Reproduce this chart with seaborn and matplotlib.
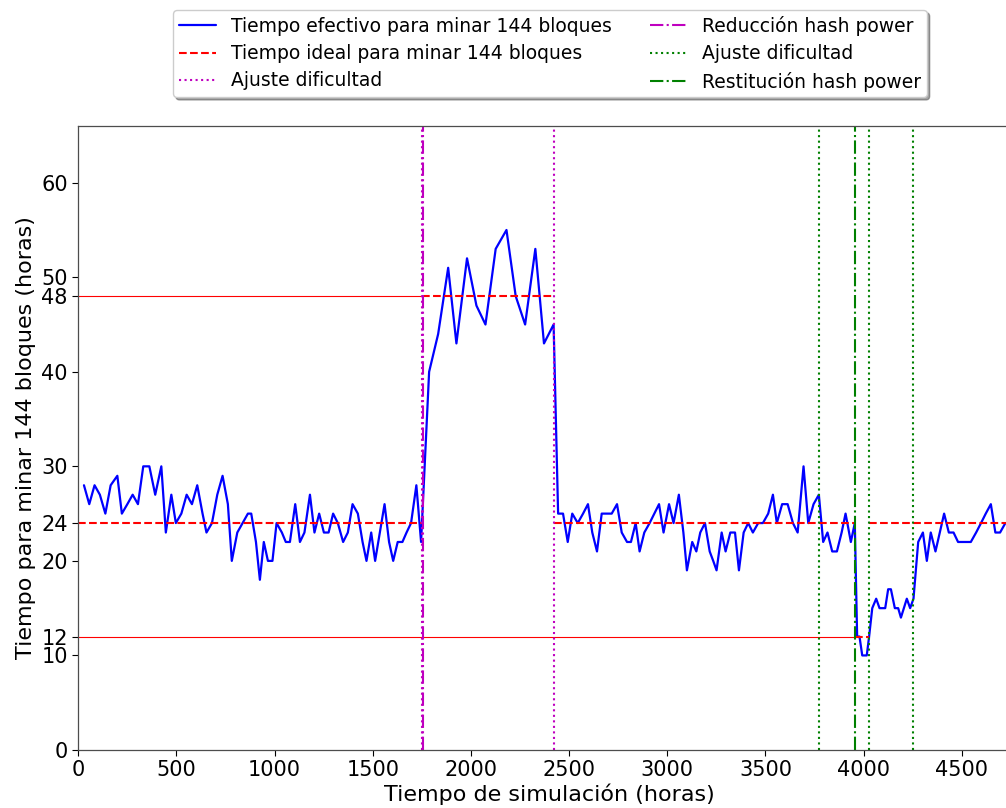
import matplotlib
matplotlib.use("Agg")
import matplotlib.pyplot as plt
import seaborn as sns
import pandas as pd

# Simulation time (hours) at the end of each window of 144 blocks
sim_time = [
    29, 56, 83, 110, 138, 165, 199, 222, 250, 277, 304, 331, 362, 392, 423,
    446, 474, 497, 525, 552, 579, 606, 633, 653, 681, 708, 735, 762, 782, 810,
    837, 864, 881, 905, 925, 945, 966, 989, 1010, 1037, 1057, 1078, 1105, 1129,
    1152, 1180, 1203, 1227, 1251, 1275, 1298, 1322, 1349, 1373, 1397, 1424,
    1448, 1468, 1492, 1512, 1536, 1560, 1583, 1604, 1627, 1651, 1672, 1695,
    1722, 1746,
    1787, 1833, 1884, 1926, 1980, 2028, 2074, 2126, 2181, 2228, 2276, 2328,
    2372, 2421,
    2444, 2469, 2493, 2516, 2544, 2571, 2596, 2618, 2642, 2666, 2693, 2717,
    2744, 2768, 2795, 2815, 2839, 2859, 2883, 2910, 2934, 2958, 2981, 3009,
    3032, 3059, 3082, 3100, 3127, 3148, 3168, 3192, 3216, 3234, 3251, 3277,
    3297, 3321, 3345, 3365, 3389, 3412, 3436, 3463, 3487, 3514, 3538, 3558,
    3585, 3613, 3640, 3664, 3694, 3718, 3745, 3772, 3794, 3816, 3840, 3864,
    3888, 3908, 3935, 3955,
    3967, 3979, 3993, 4004, 4016, 4028,
    4044, 4064, 4081, 4095, 4110, 4125, 4139, 4159, 4176, 4190, 4205, 4220,
    4237, 4254,
    4278, 4302, 4322, 4342, 4366, 4388, 4410, 4434, 4458, 4481, 4503, 4525,
    4546, 4573, 4598, 4622, 4648, 4671, 4695, 4722,
]

# Hours taken to mine each window of 144 blocks
block_hours = [
    28, 26, 28, 27, 25, 28, 29, 25, 26, 27, 26, 30, 30, 27, 30,
    23, 27, 24, 25, 27, 26, 28, 25, 23, 24, 27, 29, 26, 20, 23,
    24, 25, 25, 22, 18, 22, 20, 20, 24, 23, 22, 22, 26, 22,
    23, 27, 23, 25, 23, 23, 25, 24, 22, 23, 26, 25,
    22, 20, 23, 20, 23, 26, 22, 20, 22, 22, 23, 24,
    28, 22,
    40, 44, 51, 43, 52, 47, 45, 53, 55, 48, 45, 53,
    43, 45,
    25, 25, 22, 25, 24, 25, 26, 23, 21, 25, 25, 25,
    26, 23, 22, 22, 24, 21, 23, 24, 25, 26, 23, 26,
    24, 27, 23, 19, 22, 21, 23, 24, 21, 20, 19, 23,
    21, 23, 23, 19, 23, 24, 23, 24, 24, 25, 27, 24,
    26, 26, 24, 23, 30, 24, 26, 27, 22, 23, 21, 21,
    23, 25, 22, 24,
    12, 12, 10, 10, 10, 12,
    15, 16, 15, 15, 15, 17, 17, 15, 15, 14, 15, 16,
    15, 16,
    22, 23, 20, 23, 21, 23, 25, 23, 23, 22, 22, 22,
    22, 23, 24, 25, 26, 23, 23, 24,
]

# Ideal time per 144 blocks, piecewise between events
ideal_start = [0, 1751, 2421, 3955, 4026]
ideal_end = [1751, 2421, 3955, 4026, 4800]
ideal_value = [24, 48, 24, 12, 24]

# Thin reference lines (level, end time)
ref_level = [48, 12]
ref_end = [1751, 3955]

# Events
ajuste_reduccion = [1751, 2421]
reduccion_time = 1754
ajuste_restitucion = [3772, 4026, 4252]
restitucion_time = 3955

y_ticks = [0, 10, 12, 20, 24, 30, 40, 48, 50, 60]
x_ticks = [0, 500, 1000, 1500, 2000, 2500, 3000, 3500, 4000, 4500]

BLUE = "#0000ff"
RED = "#ff0000"
MAGENTA = "#bf00bf"
GREEN = "#008000"

sns.set_theme(style="ticks", color_codes=False)
plt.rcParams["font.family"] = ["DejaVu Sans"]
plt.rcParams.update({
    "text.color": "black",
    "axes.labelcolor": "black",
    "xtick.color": "black",
    "ytick.color": "black",
})

fig = plt.figure(figsize=(10.06, 8.08), dpi=100)
ax = fig.add_axes([0.0778, 0.0718, 0.9368, 0.7723])

df = pd.DataFrame({"t": sim_time, "h": block_hours})
sns.lineplot(data=df, x="t", y="h", color=BLUE, linewidth=1.6, estimator=None,
             sort=False, ax=ax, legend=False)
line_eff = ax.lines[-1]

ideal_handle = None
for s, e, v in zip(ideal_start, ideal_end, ideal_value):
    h, = ax.plot([s, e], [v, v], color=RED, linestyle="--", linewidth=1.5)
    if ideal_handle is None:
        ideal_handle = h

for lvl, end in zip(ref_level, ref_end):
    ax.plot([0, end], [lvl, lvl], color=RED, linewidth=0.8)

aj1 = None
for t in ajuste_reduccion:
    aj1 = ax.axvline(t, color=MAGENTA, linestyle=":", linewidth=1.5)
red_h = ax.axvline(reduccion_time, color=MAGENTA, linestyle="-.", linewidth=1.5)
aj2 = None
for t in ajuste_restitucion:
    aj2 = ax.axvline(t, color=GREEN, linestyle=":", linewidth=1.5)
rest_h = ax.axvline(restitucion_time, color=GREEN, linestyle="-.", linewidth=1.5)

ax.set_xlim(0, 4800)
ax.set_ylim(0, 66)
ax.set_yticks(y_ticks)
ax.set_xticks(x_ticks)
ax.tick_params(axis="both", labelsize=15, length=4, width=0.8)
for sp in ax.spines.values():
    sp.set_color("0.3")
    sp.set_linewidth(0.9)

ax.set_xlabel("Tiempo de simulación (horas)", fontsize=16, labelpad=2)
ax.set_ylabel("Tiempo para minar 144 bloques (horas)", fontsize=16, labelpad=4)

handles = [line_eff, ideal_handle, aj1, red_h, aj2, rest_h]
labels = [
    "Tiempo efectivo para minar 144 bloques",
    "Tiempo ideal para minar 144 bloques",
    "Ajuste dificultad",
    "Reducción hash power",
    "Ajuste dificultad",
    "Restitución hash power",
]
leg = fig.legend(handles, labels, loc="upper center",
                 bbox_to_anchor=(550 / 1006, 1 - 10 / 808), borderaxespad=0,
                 ncol=2, fontsize=13.5, shadow=True, frameon=True, framealpha=1,
                 edgecolor="0.8", fancybox=True, borderpad=0.3, labelspacing=0.45,
                 columnspacing=2.0)
for txt in leg.get_texts():
    txt.set_color("black")

fig.savefig("out.png", dpi=100)
